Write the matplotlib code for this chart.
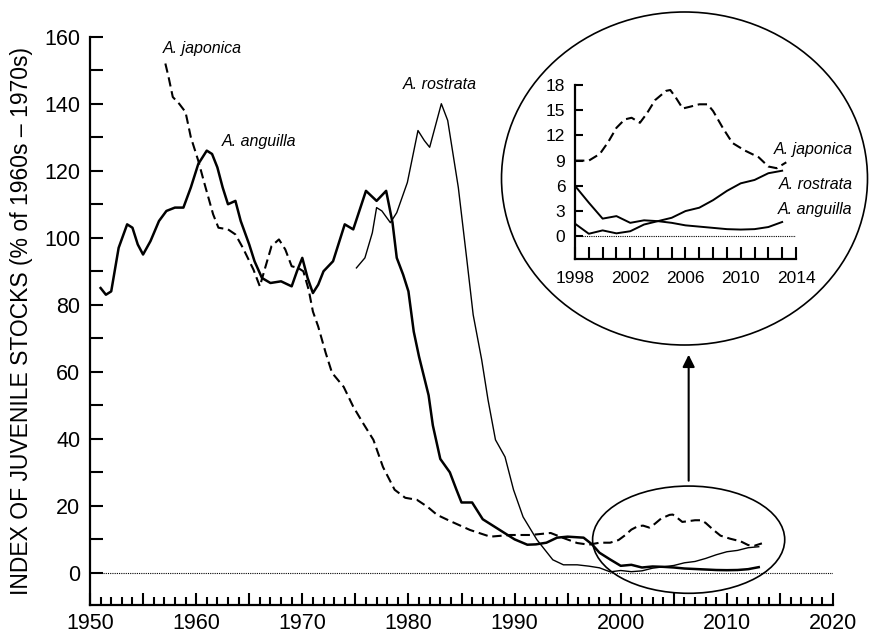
import matplotlib
matplotlib.use("Agg")
import matplotlib.pyplot as plt
from matplotlib.patches import Ellipse
from matplotlib.ticker import MultipleLocator, FuncFormatter
import numpy as np

plt.rcParams['font.family'] = ['Liberation Sans', 'DejaVu Sans']

# recent years, shown in the inset and at the end of the main curves
recent_years = [1998, 1999, 2000, 2001, 2002, 2003, 2004, 2005, 2006, 2007,
                2008, 2009, 2010, 2011, 2012, 2013]
anguilla_recent = [6.0, 4.0, 2.1, 2.4, 1.6, 1.9, 1.8, 1.6, 1.3, 1.15,
                   1.0, 0.85, 0.8, 0.85, 1.1, 1.7]
rostrata_recent = [1.5, 0.3, 0.7, 0.35, 0.6, 1.4, 1.8, 2.2, 3.0, 3.4,
                   4.3, 5.4, 6.3, 6.7, 7.5, 7.8]
japonica_recent_years = [1998.0, 1999.0, 1999.8, 2000.4, 2001.0, 2001.6, 2002.1,
                         2002.7, 2003.2, 2003.8, 2004.6, 2004.9, 2005.3, 2005.8,
                         2006.3, 2007.0, 2007.6, 2008.0, 2008.7, 2009.4, 2010.3,
                         2011.3, 2012.0, 2012.6, 2013.3]
japonica_recent = [9.0, 9.0, 9.8, 11.2, 12.9, 13.9, 14.1, 13.5, 14.6, 16.2,
                   17.3, 17.4, 16.5, 15.2, 15.4, 15.7, 15.7, 14.9, 12.9, 11.1,
                   10.2, 9.4, 8.3, 8.1, 8.8]

# earlier history
anguilla_years = [1951.0, 1951.5, 1952.0, 1952.7, 1953.5, 1954.0, 1954.5, 1955.0,
                  1955.7, 1956.5, 1957.2, 1958.0, 1958.8, 1959.5, 1960.2, 1961.0,
                  1961.5, 1962.0, 1962.5, 1963.0, 1963.7, 1964.2, 1965.0, 1965.5,
                  1966.2, 1967.0, 1968.0, 1969.0, 1969.5, 1970.0, 1970.5, 1971.0,
                  1971.5, 1972.0, 1972.9, 1974.0, 1974.8, 1976.0, 1977.0, 1977.9,
                  1978.5, 1978.9, 1979.5, 1980.0, 1980.5, 1981.0, 1981.9, 1982.3,
                  1983.0, 1983.9, 1984.5, 1985.0, 1986.0, 1987.0, 1988.0, 1989.0,
                  1990.0, 1991.2, 1992.0, 1993.0, 1994.0, 1995.0, 1996.5, 1997.3]
anguilla_vals = [85, 83, 84, 97, 104, 103, 98, 95,
                 99, 105, 108, 109, 109, 115, 122, 126,
                 125, 121, 115, 110, 111, 105, 98, 93,
                 88, 86.5, 87, 85.5, 90, 94, 88, 83.5,
                 86, 90, 93, 104, 102.5, 114, 111, 114,
                 104.5, 94, 89, 84, 72, 64.5, 53, 44,
                 34, 30, 25, 21, 21, 16, 14, 12,
                 10, 8.4, 8.5, 9, 10.5, 10.8, 10.5, 8.5]

japonica_years = [1957.1, 1957.4, 1957.8, 1958.4, 1959.0, 1959.5, 1960.2, 1960.8,
                  1961.6, 1962.1, 1963.0, 1963.7, 1964.4, 1965.4, 1966.0, 1966.5,
                  1967.1, 1967.8, 1968.4, 1969.0, 1969.6, 1970.1, 1970.6, 1971.0,
                  1971.5, 1972.2, 1972.8, 1973.9, 1974.8, 1975.7, 1976.7, 1977.6,
                  1978.7, 1979.7, 1980.8, 1981.8, 1982.7, 1983.9, 1985.8, 1987.7,
                  1989.6, 1991.5, 1993.4, 1994.6, 1995.9, 1997.0]
japonica_vals = [152, 148, 142, 140, 137.5, 130, 123, 116,
                 107, 103, 102.5, 101, 97, 90.5, 85.5, 91,
                 97.5, 99.5, 96.5, 91.5, 91, 90, 84.5, 78,
                 73.5, 65.7, 59.7, 55.5, 49.6, 44.8, 39.7, 31.6,
                 24.8, 22.4, 21.8, 19.7, 17.3, 15.5, 12.8, 10.8,
                 11.3, 11.3, 11.9, 10.4, 8.9, 8.4]

rostrata_years = [1975.1, 1975.9, 1976.6, 1977.0, 1977.5, 1978.3, 1978.9, 1979.9,
                  1980.9, 1981.5, 1982.0, 1983.1, 1983.7, 1984.7, 1985.5, 1986.1,
                  1986.9, 1987.5, 1988.2, 1989.1, 1989.9, 1990.8, 1992.1, 1993.6,
                  1994.6, 1995.9, 1997.0]
rostrata_vals = [91, 94, 101.5, 109, 108, 104.5, 107.5, 116.5,
                 132, 129, 127, 140, 135, 115, 93.5, 77,
                 63.6, 51.6, 39.7, 34.6, 24.8, 16.7, 9.9, 3.9,
                 2.4, 2.4, 2.0]

fig = plt.figure(figsize=(8.72, 6.36), dpi=100)
ax = fig.add_axes([0.1032, 0.0487, 0.8521, 0.8936])

ax.plot(anguilla_years + recent_years, anguilla_vals + anguilla_recent,
        color='k', lw=1.8, solid_joinstyle='round')
ax.plot(rostrata_years + recent_years, rostrata_vals + rostrata_recent,
        color='k', lw=1.0)
ax.plot(japonica_years + japonica_recent_years, japonica_vals + japonica_recent,
        color='k', lw=1.5, dashes=(4.5, 2.3))
ax.plot([1951.2, 2020], [0, 0], color='k', lw=0.8, ls=(0, (1, 1)))

ax.set_xlim(1950, 2020)
ax.set_ylim(-9.6, 160)
for s in ['top', 'right']:
    ax.spines[s].set_visible(False)
for s in ['left', 'bottom']:
    ax.spines[s].set_linewidth(1.6)

ax.yaxis.set_major_locator(MultipleLocator(20))
ax.yaxis.set_minor_locator(MultipleLocator(10))
ax.xaxis.set_major_locator(MultipleLocator(5))
ax.xaxis.set_minor_locator(MultipleLocator(1))
ax.xaxis.set_major_formatter(FuncFormatter(lambda v, p: f"{int(round(v))}" if round(v) % 10 == 0 else ""))
ax.tick_params(axis='y', which='both', direction='in', length=9.5, width=1.5,
               labelsize=15.5, pad=7)
ax.tick_params(axis='x', which='major', direction='in', length=8.6, width=1.5,
               labelsize=15.5, pad=5.5)
ax.tick_params(axis='x', which='minor', direction='in', length=5.6, width=1.5)
ax.set_ylabel("INDEX OF JUVENILE STOCKS (% of 1960s \u2013 1970s)", fontsize=16.5, labelpad=8)

ax.text(1956.9, 156.4, "A. japonica", style='italic', fontsize=11.5, va='center')
ax.text(1962.4, 128.7, "A. anguilla", style='italic', fontsize=11.5, va='center')
ax.text(1979.5, 145.7, "A. rostrata", style='italic', fontsize=11.5, va='center')

# highlighted recent period and arrow up to the inset
ax.add_patch(Ellipse((2006.4, 9.9), 18.1, 32, fill=False, lw=1.2, color='k'))
ax.annotate("", xy=(2006.4, 65.1), xytext=(2006.4, 27.5),
            arrowprops=dict(arrowstyle='-|>', lw=1.5, color='k',
                            mutation_scale=18, shrinkA=0, shrinkB=0))

# big circle around the inset
fig.add_artist(Ellipse((6.845, 4.575), 3.66, 3.33, fill=False, lw=1.2,
                       color='k', transform=fig.dpi_scale_trans))

ins = fig.add_axes([0.6594, 0.5928, 0.2534, 0.2736])
ins.patch.set_alpha(0)
ins.plot(recent_years, anguilla_recent, color='k', lw=1.4)
ins.plot(recent_years, rostrata_recent, color='k', lw=1.4)
ins.plot(japonica_recent_years, japonica_recent, color='k', lw=1.5, dashes=(4.5, 2.3))
ins.plot([1998.5, 2014], [0, 0], color='k', lw=0.8, ls=(0, (1, 1)))
ins.set_xlim(1998, 2014)
ins.set_ylim(-2.7, 18)
for s in ['top', 'right']:
    ins.spines[s].set_visible(False)
for s in ['left', 'bottom']:
    ins.spines[s].set_linewidth(1.6)
ins.set_xticks(np.arange(1998, 2015, 4))
ins.xaxis.set_minor_locator(MultipleLocator(1))
ins.set_yticks(np.arange(0, 19, 3))
ins.tick_params(axis='y', direction='in', length=6, width=1.5, labelsize=12.5, pad=7)
ins.tick_params(axis='x', which='both', direction='in', length=9, width=1.5,
                labelsize=12.5, pad=9)

ins.text(2018.1, 10.35, "A. japonica", style='italic', fontsize=11.5, ha='right', va='center', clip_on=False)
ins.text(2018.1, 6.2, "A. rostrata", style='italic', fontsize=11.5, ha='right', va='center', clip_on=False)
ins.text(2018.1, 3.2, "A. anguilla", style='italic', fontsize=11.5, ha='right', va='center', clip_on=False)

fig.savefig("out.png", dpi=100)
